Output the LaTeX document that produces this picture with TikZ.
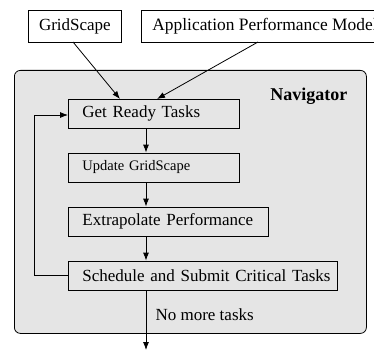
\documentclass[tikz,border=0pt]{standalone}
\usepackage{fontspec}
\setmainfont{Liberation Serif}
\usetikzlibrary{arrows.meta}
\begin{document}
\begin{tikzpicture}[x=1pt,y=-1pt,
  box/.style={draw, line width=0.8pt, fill=gray!20, inner xsep=14pt, inner ysep=0pt, minimum height=29pt, anchor=west, align=left, font=\fontsize{17}{20}\selectfont},
  arr/.style={-{Latex[length=8pt,width=6pt]}, line width=0.8pt},
  ln/.style={line width=0.8pt}]
\clip (0,0) rectangle (374,350);
\fill[white] (0,0) rectangle (374,350);
\node[draw, line width=0.8pt, rounded corners=6pt, fill=gray!20, minimum width=352pt, minimum height=263pt, anchor=north west, inner sep=0pt] (nav) at (14,70) {};
\node[font=\fontsize{18}{22}\selectfont\bfseries, anchor=east] (navl) at (351,96) {Navigator};
\node[draw, line width=0.8pt, fill=white, minimum width=93pt, minimum height=32pt, anchor=west, inner sep=0pt, font=\fontsize{17}{20}\selectfont] (gs) at (28,26) {GridScape};
\node[draw, line width=0.8pt, fill=white, minimum height=32pt, anchor=west, inner xsep=11pt, inner ysep=0pt, font=\fontsize{17.4}{20}\selectfont] (apm) at (141,26) {Application Performance Model};
\node[box, text width=143pt] (gr) at (68,113.5) {Get Ready Tasks};
\node[box, text width=143pt, font=\fontsize{14.5}{17}\selectfont] (ug) at (68,167.5) {Update GridScape};
\node[box, text width=172pt] (ep) at (68,221.5) {Extrapolate Performance};
\node[box, text width=241pt] (ss) at (68,275.5) {\mbox{Schedule and Submit Critical Tasks}};
\coordinate (gsa) at (73,42);
\coordinate (apa) at (258,42);
\coordinate (gri1) at (120,99);
\coordinate (gri2) at (157,99);
\draw[arr] (gsa) -- (gri1);
\draw[arr] (apa) -- (gri2);
\draw[arr] (gr.south -| 146,0) -- (ug.north -| 146,0);
\draw[arr] (ug.south -| 146,0) -- (ep.north -| 146,0);
\draw[arr] (ep.south -| 146,0) -- (ss.north -| 146,0);
\coordinate (loopa) at (34,275.5);
\coordinate (loopb) at (34,115);
\draw[arr] (ss.west) -- (loopa) -- (loopb) -- (gr.west |- loopb);
\coordinate (endc) at (146,350);
\draw[arr] (ss.south -| endc) -- (endc);
\node[anchor=west, font=\fontsize{17}{20}\selectfont] (nmt) at (152,315) {No more tasks};
\end{tikzpicture}
\end{document}
